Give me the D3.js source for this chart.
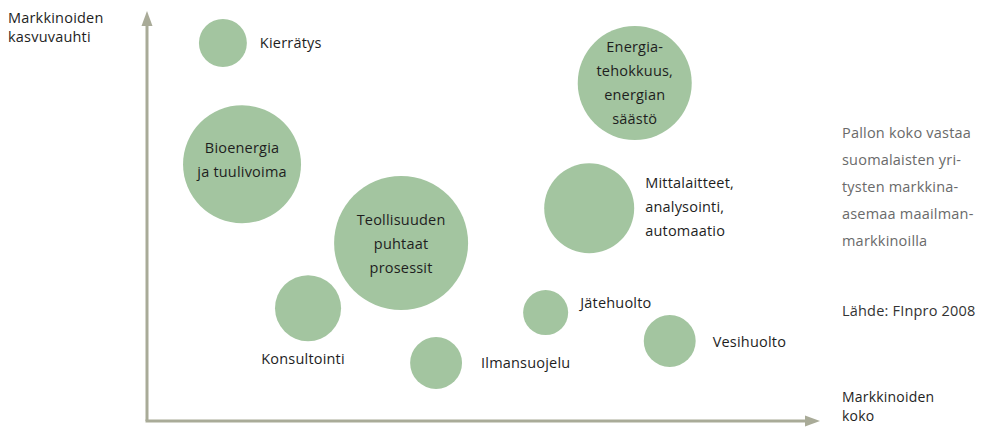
<!DOCTYPE html>
<html>
<head>
<meta charset="utf-8">
<script src="https://cdn.jsdelivr.net/npm/d3@7"></script>
<style>
  html, body { margin: 0; padding: 0; background: #fff; }
  svg { display: block; font-family: "Open Sans", sans-serif; }
  svg text { font-size: 14.5px; letter-spacing: 0.2px; }
</style>
</head>
<body>
<div id="chart"></div>
<script>
// Bubble data: market size (x), market growth (y), Finnish firms' position (bubble size)
const names = ["Kierrätys", "Bioenergia ja tuulivoima", "Teollisuuden puhtaat prosessit",
  "Konsultointi", "Ilmansuojelu", "Jätehuolto", "Mittalaitteet, analysointi, automaatio",
  "Vesihuolto", "Energiatehokkuus, energian säästö"];
const marketSize = [11.5, 14.4, 38.5, 24.4, 43.8, 60.4, 67.0, 79.2, 73.9];
const marketGrowth = [94.5, 64.2, 44.5, 28.2, 14.5, 27.1, 53.2, 20.0, 84.5];
const position = [12.8, 77.5, 100, 24.3, 15.0, 11.3, 45.1, 15.0, 72.4];
const labelLines = [
  ["Kierrätys"],
  ["Bioenergia", "ja tuulivoima"],
  ["Teollisuuden", "puhtaat", "prosessit"],
  ["Konsultointi"],
  ["Ilmansuojelu"],
  ["Jätehuolto"],
  ["Mittalaitteet,", "analysointi,", "automaatio"],
  ["Vesihuolto"],
  ["Energia-", "tehokkuus,", "energian", "säästö"]
];
const legendLines = ["Pallon koko vastaa", "suomalaisten yri-", "tysten markkina-",
  "asemaa maailman-", "markkinoilla"];
const sourceText = "Lähde: FInpro 2008";

// label placement relative to each bubble (layout only)
const placement = [
  { pos: "right", dx: 13, dy: 5 },
  { pos: "inside", dy: -11 },
  { pos: "inside", dy: -18 },
  { pos: "below", dx: -5, dy: 23 },
  { pos: "right", dx: 19, dy: 5 },
  { pos: "right", dx: 12, dy: -5 },
  { pos: "right", dx: 11, dy: -20 },
  { pos: "right", dx: 17, dy: 6 },
  { pos: "inside", dy: -31 }
];

const W = 992, H = 427;
const axisColor = "#a9ab98", bubbleColor = "#a3c5a0", textColor = "#1e1e1e";
const lineH = 24;

const svg = d3.select("#chart").append("svg").attr("width", W).attr("height", H);

const x = d3.scaleLinear().domain([0, 100]).range([147, 807]);
const y = d3.scaleLinear().domain([0, 100]).range([421, 21]);
const r = d3.scaleSqrt().domain([0, 100]).range([0, 67]);

// axes with arrowheads
const ax = svg.append("g");
ax.append("line").attr("x1", x(0)).attr("y1", y(0)).attr("x2", x(0)).attr("y2", 24)
  .attr("stroke", axisColor).attr("stroke-width", 3);
ax.append("line").attr("x1", x(0) - 1.5).attr("y1", y(0)).attr("x2", 808).attr("y2", y(0))
  .attr("stroke", axisColor).attr("stroke-width", 3);
ax.append("path").attr("d", `M${x(0)},11 L${x(0) + 5.5},26 L${x(0) - 5.5},26 Z`).attr("fill", axisColor);
ax.append("path").attr("d", `M820,${y(0)} L805,${y(0) - 5.5} L805,${y(0) + 5.5} Z`).attr("fill", axisColor);

// axis titles
const yTitle = svg.append("text").attr("x", 8).attr("y", 23).attr("fill", textColor);
yTitle.append("tspan").attr("x", 8).text("Markkinoiden");
yTitle.append("tspan").attr("x", 8).attr("dy", 19).text("kasvuvauhti");
svg.append("text").attr("x", 842).attr("y", 402).attr("fill", textColor)
  .style("font-size", "14px").text("Markkinoiden");
svg.append("text").attr("x", 842).attr("y", 421).attr("fill", textColor)
  .style("font-size", "14px").text("koko");

// bubbles
const data = names.map((n, i) => ({
  name: n, size: marketSize[i], growth: marketGrowth[i], pos: position[i],
  lines: labelLines[i], place: placement[i]
}));

const g = svg.append("g");
g.selectAll("circle").data(data).join("circle")
  .attr("cx", d => x(d.size))
  .attr("cy", d => y(d.growth))
  .attr("r", d => r(d.pos))
  .attr("fill", bubbleColor);

g.selectAll("text.lbl").data(data).join("text")
  .attr("class", "lbl")
  .attr("fill", textColor)
  .each(function(d) {
    const cx = x(d.size), cy = y(d.growth), rr = r(d.pos), p = d.place;
    let tx, ty, anchor;
    if (p.pos === "inside") { tx = cx; ty = cy + p.dy; anchor = "middle"; }
    else if (p.pos === "below") { tx = cx + p.dx; ty = cy + rr + p.dy; anchor = "middle"; }
    else { tx = cx + rr + p.dx; ty = cy + p.dy; anchor = "start"; }
    const t = d3.select(this).attr("text-anchor", anchor).attr("y", ty);
    d.lines.forEach((l, i) => {
      t.append("tspan").attr("x", tx).attr("dy", i === 0 ? 0 : lineH).text(l);
    });
  });

// note on the right
const note = svg.append("text").attr("y", 138).attr("fill", "#6a6a6a");
legendLines.forEach((l, i) => {
  note.append("tspan").attr("x", 842).attr("dy", i === 0 ? 0 : 27).text(l);
});
svg.append("text").attr("x", 842).attr("y", 316).attr("fill", "#333").text(sourceText);
</script>
</body>
</html>
